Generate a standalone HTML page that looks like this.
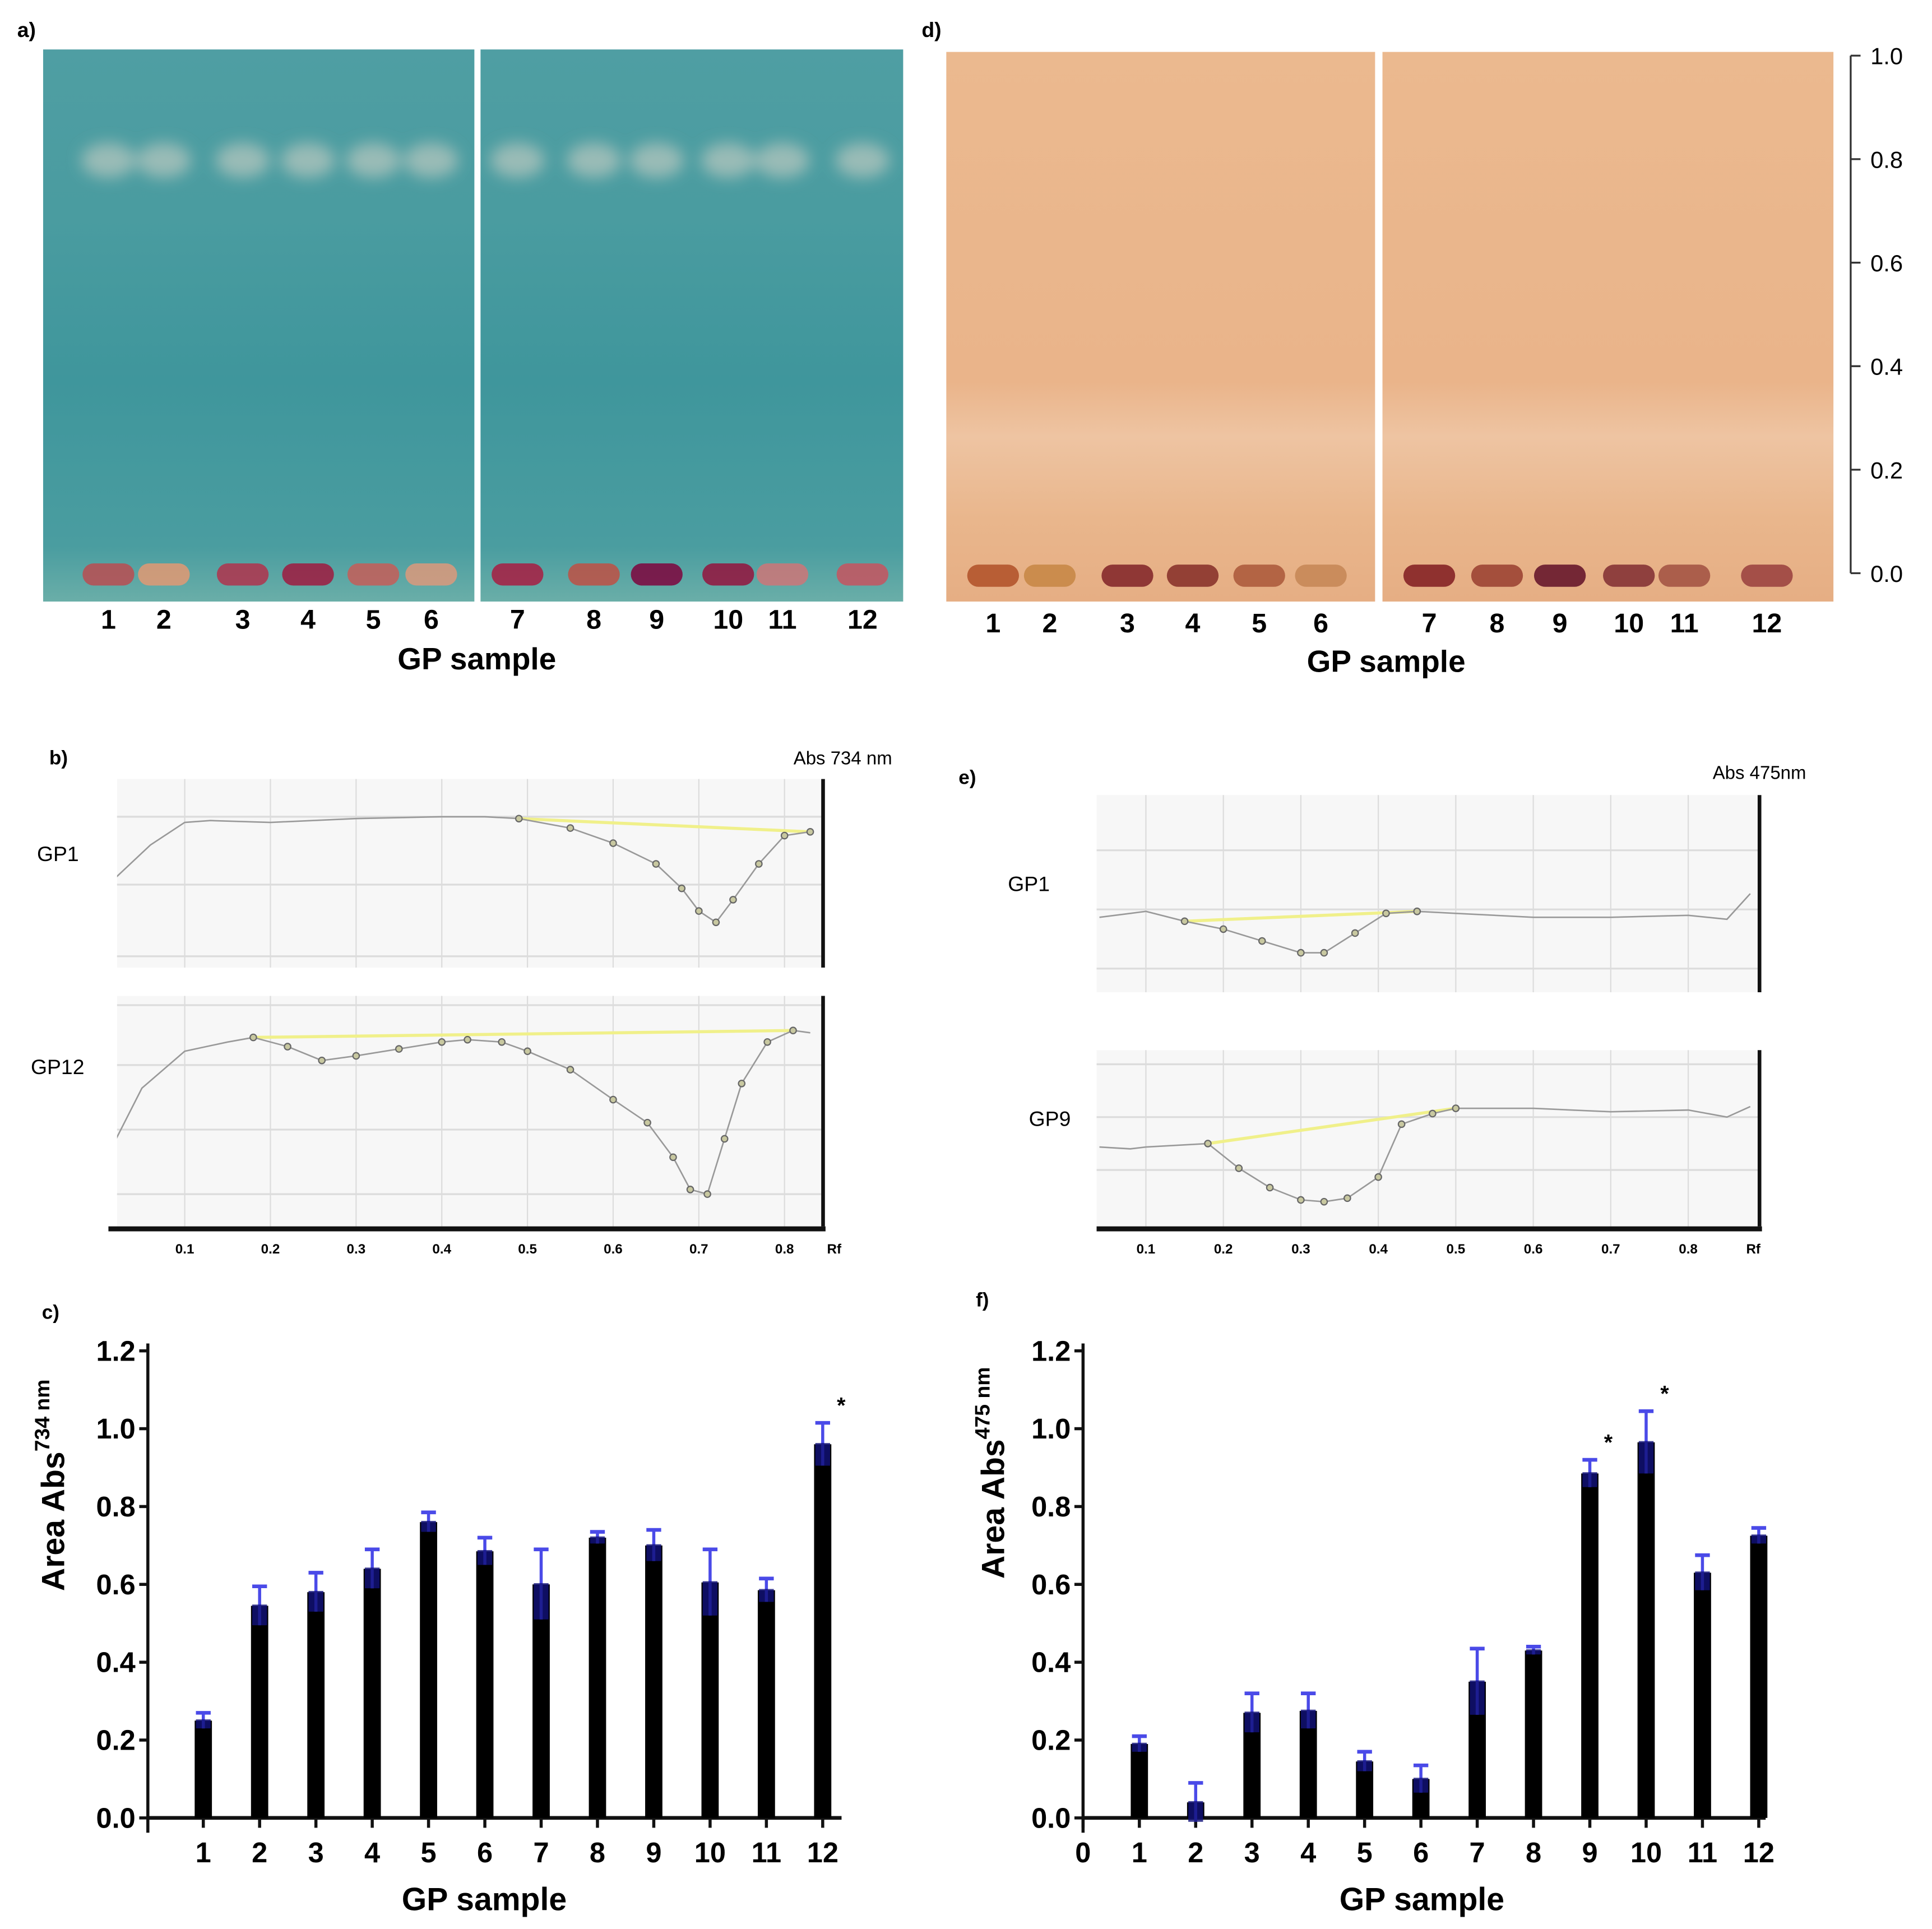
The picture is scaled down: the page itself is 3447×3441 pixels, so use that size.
<!DOCTYPE html>
<html><head><meta charset="utf-8">
<style>
html,body{margin:0;padding:0;background:#fff;}
svg{display:block;font-family:"Liberation Sans",sans-serif;}
</style></head>
<body>
<svg id="fig" width="3447" height="3441" viewBox="0 0 1568 1565" xmlns="http://www.w3.org/2000/svg">
<defs>
<linearGradient id="teal" x1="0" y1="0" x2="0" y2="1">
<stop offset="0" stop-color="#4f9ea3"/><stop offset="0.3" stop-color="#4a9ca0"/><stop offset="0.6" stop-color="#3f969c"/><stop offset="0.9" stop-color="#4a9da0"/><stop offset="1" stop-color="#6aaea8"/>
</linearGradient>
<linearGradient id="orng" x1="0" y1="0" x2="0" y2="1">
<stop offset="0" stop-color="#ebb98f"/><stop offset="0.6" stop-color="#eab48a"/><stop offset="0.7" stop-color="#eec4a2"/><stop offset="0.85" stop-color="#e9b68c"/><stop offset="1" stop-color="#e6ae84"/>
</linearGradient>
<filter id="blur" x="-50%" y="-50%" width="200%" height="200%"><feGaussianBlur stdDeviation="6"/></filter>
<clipPath id="clipA1"><rect x="35" y="40" width="350" height="448"/></clipPath>
<clipPath id="clipA2"><rect x="390" y="40" width="343" height="448"/></clipPath>
</defs>

<!-- Panel a -->
<text x="14" y="30" font-size="17" font-weight="bold">a)</text>
<rect x="35" y="40" width="350" height="448" fill="url(#teal)"/>
<rect x="390" y="40" width="343" height="448" fill="url(#teal)"/>
<g id="blobsA" filter="url(#blur)"></g>
<g id="spotsA"></g>
<g id="lanesA" font-size="22" font-weight="bold" text-anchor="middle"></g>
<text x="387" y="543" font-size="25" font-weight="bold" text-anchor="middle">GP sample</text>

<!-- Panel d -->
<text x="748" y="30" font-size="17" font-weight="bold">d)</text>
<rect x="768" y="42" width="348" height="446" fill="url(#orng)"/>
<rect x="1122" y="42" width="366" height="446" fill="url(#orng)"/>
<g id="spotsD"></g>
<g id="lanesD" font-size="22" font-weight="bold" text-anchor="middle"></g>
<text x="1125" y="545" font-size="25" font-weight="bold" text-anchor="middle">GP sample</text>
<g id="rfAxis" font-size="19"></g>

<!-- Panel b -->
<text x="40" y="620" font-size="16" font-weight="bold">b)</text>
<g id="chromB"></g>
<text x="644" y="620" font-size="15">Abs 734 nm</text>
<!-- Panel e -->
<text x="778" y="636" font-size="16" font-weight="bold">e)</text>
<g id="chromE"></g>
<text x="1390" y="632" font-size="15">Abs 475nm</text>

<!-- Panel c -->
<text x="34" y="1070" font-size="16" font-weight="bold">c)</text>
<g id="chartC"></g>
<!-- Panel f -->
<text x="792" y="1060" font-size="16" font-weight="bold">f)</text>
<g id="chartF"></g>
</svg>
<script>
const NS="http://www.w3.org/2000/svg";
// ---- bar chart data ----
const sampleLabels=["1","2","3","4","5","6","7","8","9","10","11","12"];
const yTicks=[0,0.2,0.4,0.6,0.8,1.0,1.2];
const yTickLabels=["0.0","0.2","0.4","0.6","0.8","1.0","1.2"];
const valuesC=[0.25,0.545,0.58,0.64,0.76,0.685,0.60,0.72,0.70,0.605,0.585,0.96];
const errC=[0.02,0.05,0.05,0.05,0.025,0.035,0.09,0.015,0.04,0.085,0.03,0.055];
const starsC=[12];
const valuesF=[0.19,0.04,0.27,0.275,0.145,0.10,0.35,0.43,0.885,0.965,0.63,0.725];
const errF=[0.02,0.05,0.05,0.045,0.025,0.035,0.085,0.01,0.035,0.08,0.045,0.02];
const starsF=[9,10];
// ---- TLC lane labels ----
const laneLabels=["1","2","3","4","5","6","7","8","9","10","11","12"];
const spotColorsA=["#b0555a","#d49a78","#a83e55","#98284a","#bb6460","#cf9a80","#a02a4c","#b4584e","#7a1448","#8e2248","#c27a7c","#bc5c66"];
const spotColorsD=["#b55a30","#c98a4a","#8a3030","#8e3a30","#b06040","#c88a5a","#8a2a2a","#a04a38","#6e2030","#8a3a3a","#a85a48","#a04a44"];
// ---- Rf axis ----
const rfTicks=[0,0.2,0.4,0.6,0.8,1.0];
const rfLabels=["0.0","0.2","0.4","0.6","0.8","1.0"];
// ---- chromatogram data (Rf, relative signal 0..1 top) ----
const rfGrid=[0.1,0.2,0.3,0.4,0.5,0.6,0.7,0.8];
const b1Rf=[0.02,0.06,0.1,0.13,0.2,0.3,0.4,0.45,0.49,0.55,0.6,0.65,0.68,0.7,0.72,0.74,0.77,0.8,0.83];
const b1Sig=[0.48,0.65,0.77,0.78,0.77,0.79,0.8,0.8,0.79,0.74,0.66,0.55,0.42,0.3,0.24,0.36,0.55,0.7,0.72];
const b12Rf=[0.02,0.05,0.1,0.15,0.18,0.22,0.26,0.3,0.35,0.4,0.43,0.47,0.5,0.55,0.6,0.64,0.67,0.69,0.71,0.73,0.75,0.78,0.81,0.83];
const b12Sig=[0.38,0.6,0.76,0.8,0.82,0.78,0.72,0.74,0.77,0.8,0.81,0.8,0.76,0.68,0.55,0.45,0.3,0.16,0.14,0.38,0.62,0.8,0.85,0.84];
const e1Rf=[0.04,0.08,0.1,0.15,0.2,0.25,0.3,0.33,0.37,0.41,0.45,0.5,0.6,0.7,0.8,0.85,0.88];
const e1Sig=[0.38,0.4,0.41,0.36,0.32,0.26,0.2,0.2,0.3,0.4,0.41,0.4,0.38,0.38,0.39,0.37,0.5];
const e9Rf=[0.04,0.08,0.1,0.18,0.22,0.26,0.3,0.33,0.36,0.4,0.43,0.47,0.5,0.6,0.7,0.8,0.85,0.88];
const e9Sig=[0.45,0.44,0.45,0.47,0.33,0.22,0.15,0.14,0.16,0.28,0.58,0.64,0.67,0.67,0.65,0.66,0.62,0.68];

function el(tag,attrs,parent){const e=document.createElementNS(NS,tag);for(const k in attrs)e.setAttribute(k,attrs[k]);parent.appendChild(e);return e;}

// pale blobs near solvent front on teal plate
(function(){
  const g=document.getElementById("blobsA");
  const xs=[88,133,197,250,303,350,420,482,533,591,635,700];
  xs.forEach((x,i)=>{
    const b=el("ellipse",{cx:x,cy:130,rx:22,ry:14,fill:"#d8d6c8",opacity:0.55,"clip-path":i<6?"url(#clipA1)":"url(#clipA2)"},g);
    
    
  });
})();

function tlc(gSpots,gLanes,xs,colors,spotY,labY,prefix){
  xs.forEach((x,i)=>{
    const s=el("rect",{x:x-21,y:spotY-9,width:42,height:18,rx:9,fill:colors[i],opacity:0.95},gSpots);
    
    
    const t=el("text",{x:x,y:labY},gLanes);t.textContent=laneLabels[i];
    
    
  });
}
tlc(document.getElementById("spotsA"),document.getElementById("lanesA"),[88,133,197,250,303,350,420,482,533,591,635,700],spotColorsA,466,510,"plate-a");
tlc(document.getElementById("spotsD"),document.getElementById("lanesD"),[806,852,915,968,1022,1072,1160,1215,1266,1322,1367,1434],spotColorsD,467,513,"plate-d");

// Rf axis for d
(function(){
  const g=document.getElementById("rfAxis");
  const y=v=>465-v*420;
  const ax=el("line",{x1:1502,y1:y(1.0),x2:1502,y2:y(0),stroke:"#333","stroke-width":1.5},g);
  
  rfTicks.forEach((v,i)=>{
    el("line",{x1:1502,y1:y(v),x2:1510,y2:y(v),stroke:"#333","stroke-width":1.5},g);
    const t=el("text",{x:1518,y:y(v)+7},g);t.textContent=rfLabels[i];
    
  });
})();

let clipId=0;
function chrom(g,box,rf,sig,startIdx,endIdx,label,labX,name,opts){
  const X=r=>box.x0+(r-opts.r0)/(opts.r1-opts.r0)*(box.x1-box.x0);
  const Y=s=>box.y1-s*(box.y1-box.y0);
  const cid="cc"+(clipId++);
  const cp=el("clipPath",{id:cid},g);el("rect",{x:box.x0,y:box.y0-20,width:box.x1-box.x0+1,height:box.y1-box.y0+20},cp);
  const bg=el("rect",{x:box.x0,y:box.y0,width:box.x1-box.x0,height:box.y1-box.y0,fill:"#f7f7f7"},g);
  
  rfGrid.forEach(r=>el("line",{x1:X(r),y1:box.y0,x2:X(r),y2:box.y1,stroke:"#dcdcdc","stroke-width":1},g));
  opts.hgrid.forEach(f=>el("line",{x1:box.x0,y1:box.y0+f*(box.y1-box.y0),x2:box.x1,y2:box.y0+f*(box.y1-box.y0),stroke:"#dcdcdc","stroke-width":1.5},g));
  const pts=rf.map((r,i)=>X(r).toFixed(1)+","+Y(sig[i]).toFixed(1)).join(" ");
  const bl=el("line",{x1:X(rf[startIdx]),y1:Y(sig[startIdx]),x2:X(rf[endIdx]),y2:Y(sig[endIdx]),stroke:"#f0f08a","stroke-width":2.5},g);
  
  const pl=el("polyline",{points:pts,fill:"none",stroke:"#999","stroke-width":1.2,"clip-path":"url(#"+cid+")"},g);
  
  for(let i=startIdx;i<=endIdx;i++){el("circle",{cx:X(rf[i]),cy:Y(sig[i]),r:2.6,fill:"#c8c8a0",stroke:"#666","stroke-width":1},g);}
  const t=el("text",{x:labX,y:(box.y0+box.y1)/2+opts.labDy,"font-size":17},g);t.textContent=label;
  
  if(opts.rightAxis){el("line",{x1:box.x1,y1:opts.rightAxis,x2:box.x1,y2:box.y1,stroke:"#111","stroke-width":3},g);}
  if(opts.bottom){
    const a=el("line",{x1:opts.bottom[0],y1:box.y1+2,x2:box.x1+2,y2:box.y1+2,stroke:"#111","stroke-width":4},g);
    
    rfGrid.forEach(r=>{const tt=el("text",{x:X(r),y:box.y1+22,"font-size":11,"font-weight":"bold","text-anchor":"middle"},g);tt.textContent=String(r);
      });
    const rt=el("text",{x:opts.rfX,y:box.y1+22,"font-size":11,"font-weight":"bold","text-anchor":"middle"},g);rt.textContent="Rf";
    
  }
}
const gB=document.getElementById("chromB"),gE=document.getElementById("chromE");
chrom(gB,{x0:95,x1:668,y0:632,y1:785},b1Rf,b1Sig,8,18,"GP1",30,"b-gp1",{r0:0.021,r1:0.845,hgrid:[0.2,0.56,0.94],rightAxis:632,labDy:-10});
chrom(gB,{x0:95,x1:668,y0:808,y1:995},b12Rf,b12Sig,4,22,"GP12",25,"b-gp12",{r0:0.021,r1:0.845,hgrid:[0.04,0.3,0.58,0.86],rightAxis:808,bottom:[88],rfX:677,labDy:-30});
chrom(gE,{x0:890,x1:1428,y0:645,y1:805},e1Rf,e1Sig,3,10,"GP1",818,"e-gp1",{r0:0.0364,r1:0.892,hgrid:[0.28,0.58,0.88],rightAxis:645,labDy:-2});
chrom(gE,{x0:890,x1:1428,y0:852,y1:995},e9Rf,e9Sig,3,12,"GP9",835,"e-gp9",{r0:0.0364,r1:0.892,hgrid:[0.08,0.38,0.68],rightAxis:852,bottom:[890],rfX:1423,labDy:-10});

function bars(g,cfg,vals,errs,stars,name){
  const Y=v=>cfg.y0-v/1.2*(cfg.y0-cfg.y12);
  const X=i=>cfg.x1+(i)*cfg.step;
  const ya=el("line",{x1:cfg.ax,y1:cfg.y12-6,x2:cfg.ax,y2:cfg.y0+12,stroke:"#111","stroke-width":2.5},g);
  
  const xa=el("line",{x1:cfg.ax,y1:cfg.y0,x2:cfg.xend,y2:cfg.y0,stroke:"#111","stroke-width":3},g);
  
  yTicks.forEach((v,i)=>{
    el("line",{x1:cfg.ax-7,y1:Y(v),x2:cfg.ax,y2:Y(v),stroke:"#111","stroke-width":2.5},g);
    const t=el("text",{x:cfg.ax-10,y:Y(v)+8,"font-size":23,"font-weight":"bold","text-anchor":"end"},g);t.textContent=yTickLabels[i];
    
  });
  const xl=cfg.zero?["0"].concat(sampleLabels):sampleLabels;
  xl.forEach((lab)=>{
    const n=+lab;const x=X(n);
    el("line",{x1:x,y1:cfg.y0,x2:x,y2:cfg.y0+8,stroke:"#111","stroke-width":2.5},g);
    const t=el("text",{x:x,y:cfg.y0+36,"font-size":23,"font-weight":"bold","text-anchor":"middle"},g);t.textContent=lab;
    
  });
  vals.forEach((v,i)=>{
    const x=X(i+1);
    const b=el("rect",{x:x-7,y:Y(v),width:14,height:cfg.y0-Y(v),fill:"#000"},g);
    
    const e=el("line",{x1:x,y1:Y(v-errs[i]),x2:x,y2:Y(v+errs[i]),stroke:"#4a4ae8","stroke-width":2.5},g);
    
    el("line",{x1:x-6,y1:Y(v+errs[i]),x2:x+6,y2:Y(v+errs[i]),stroke:"#4a4ae8","stroke-width":3},g);
    el("rect",{x:x-6,y:Y(v)-1,width:12,height:Y(v-errs[i])-Y(v)+1,fill:"#12127a",opacity:0.8},g);
  });
  stars.forEach(n=>{
    const v=vals[n-1]+errs[n-1];
    const s=el("text",{x:X(n)+15,y:Y(v)-8,"font-size":18,"font-weight":"bold","text-anchor":"middle"},g);s.textContent="*";
    
  });
  const xt=el("text",{x:cfg.titleX,y:cfg.y0+75,"font-size":26,"font-weight":"bold","text-anchor":"middle"},g);xt.textContent="GP sample";
  
  const yt=el("text",{transform:`translate(${cfg.ylx},${cfg.yly}) rotate(-90)`,"font-size":26,"font-weight":"bold","text-anchor":"middle"},g);
  yt.innerHTML=`Area Abs<tspan dy="-12" font-size="17">${cfg.nm} nm</tspan>`;
  
}
bars(document.getElementById("chartC"),{ax:120,y0:1475,y12:1096,x1:165-45.7,step:45.7,xend:683,titleX:393,ylx:52,yly:1205,nm:"734",zero:false},valuesC,errC,starsC,"chart-c");
bars(document.getElementById("chartF"),{ax:879,y0:1475,y12:1096,x1:879,step:45.7,xend:1433,titleX:1154,ylx:815,yly:1195,nm:"475",zero:true},valuesF,errF,starsF,"chart-f");
</script>
</body></html>
